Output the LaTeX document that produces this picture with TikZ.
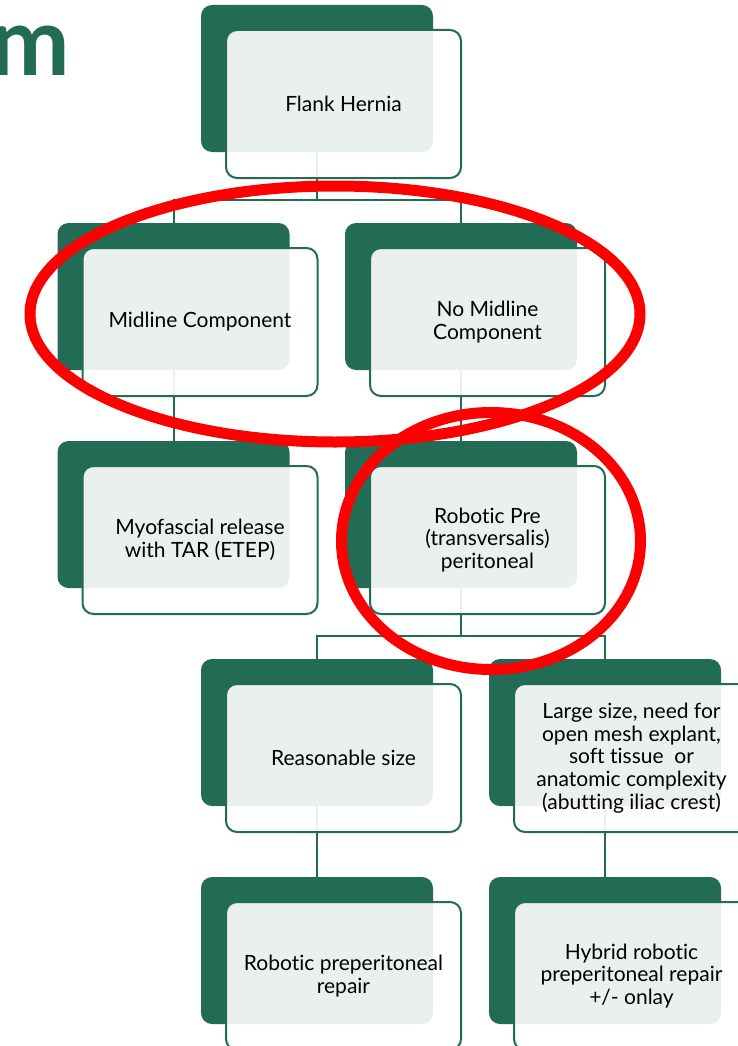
\documentclass[tikz,border=0pt]{standalone}
\usepackage{fontspec}
\setmainfont{Lato}[Ligatures=NoCommon]
\usetikzlibrary{backgrounds}
\definecolor{dkgreen}{RGB}{34,107,84}
\definecolor{hlred}{RGB}{255,0,0}
\begin{document}
\begin{tikzpicture}[x=1pt,y=-1pt,
  back/.style={fill=dkgreen, draw=none, rounded corners=11pt, minimum width=232pt, minimum height=147pt, inner sep=0pt},
  front/.style={draw=dkgreen, line width=2pt, fill=white, fill opacity=0.9, text opacity=1, rounded corners=11pt, minimum width=235pt, minimum height=148pt, inner sep=0pt, align=center, font=\fontsize{21}{22.6}\selectfont, text=black},
  link/.style={draw=dkgreen, line width=2pt},
  ring/.style={draw=hlred, line width=11pt},
  titlem/.style={text=dkgreen, font=\fontsize{95}{95}\selectfont\bfseries, inner sep=0pt, anchor=base east}]
\useasboundingbox (0,0) rectangle (738,1046);
\node[titlem] (ttl) at (70,76) {m};
% back boxes
\node[back] (a1) at (317,78.5) {};
\node[back] (a2) at (173.5,296.5) {};
\node[back] (a3) at (461,296.5) {};
\node[back] (a4) at (173.5,514.5) {};
\node[back] (a5) at (461,514.5) {};
\node[back] (a6) at (317,732.5) {};
\node[back] (a7) at (605,732.5) {};
\node[back] (a8) at (317,950.5) {};
\node[back] (a9) at (605,950.5) {};
% front boxes
\node[front] (b1) at (343.5,104) {Flank Hernia};
\node[front] (b2) at (200,322) {Midline Component};
\node[front] (b3) at (487.5,322) {No Midline\\Component};
\node[front] (b4) at (200,540) {Myofascial release\\with TAR (ETEP)};
\node[front] (b5) at (487.5,540) {Robotic Pre\\(transversalis)\\peritoneal};
\node[front] (b6) at (343.5,758) {Reasonable size};
\node[front] (b7) at (631.5,758) {Large size, need for\\open mesh explant,\\soft tissue~~or\\anatomic complexity\\(abutting iliac crest)};
\node[front] (b8) at (343.5,976) {Robotic preperitoneal\\repair};
\node[front] (b9) at (631.5,976) {Hybrid robotic\\preperitoneal repair\\+/- onlay};
% connectors
\begin{scope}[on background layer]
\draw[link] (a1.south) -- ++(0,48) coordinate (j1) -| (a2.north);
\draw[link] (j1) -| (a3.north);
\draw[link] (a2.south) -- (a4.north);
\draw[link] (a3.south) -- (a5.north);
\draw[link] (a5.south) -- ++(0,48) coordinate (j2) -| (a6.north);
\draw[link] (j2) -| (a7.north);
\draw[link] (a6.south) -- (a8.north);
\draw[link] (a7.south) -- (a9.north);
\end{scope}
% highlight rings
\draw[ring] (335,314) ellipse [x radius=305, y radius=128];
\draw[ring] (491,541) ellipse [x radius=149.5, y radius=128.5];
\end{tikzpicture}
\end{document}
